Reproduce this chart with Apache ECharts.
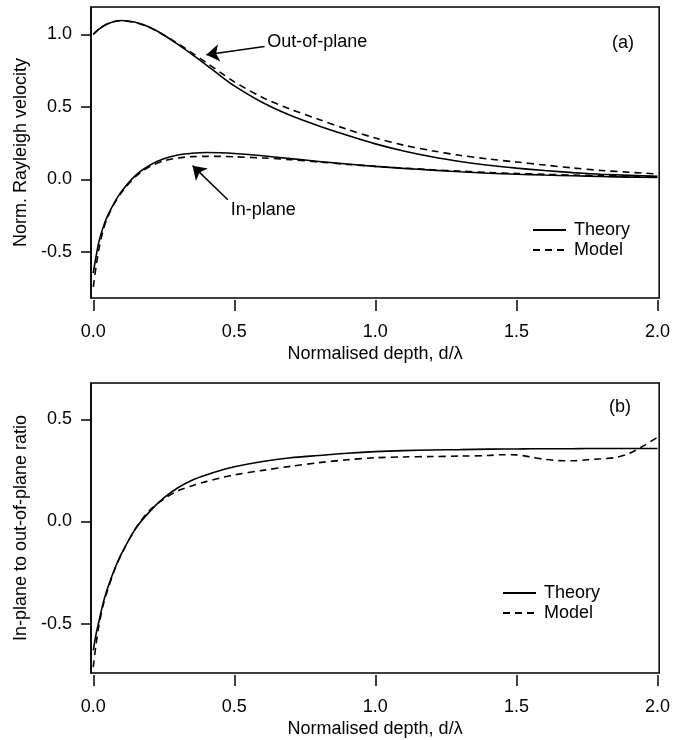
<!DOCTYPE html>
<html>
<head>
<meta charset="utf-8">
<script src="https://cdn.jsdelivr.net/npm/echarts@6/dist/echarts.min.js"></script>
<style>html,body{margin:0;padding:0;background:#fff;}#c{width:673px;height:740px;}</style>
</head>
<body>
<div id="c"></div>
<script>
// ---- data ----
const depthA = [0, 0.01, 0.02, 0.035, 0.05, 0.075, 0.1, 0.15, 0.2, 0.25, 0.3, 0.35, 0.4, 0.45, 0.5, 0.6, 0.7, 0.8, 0.9, 1.0, 1.1, 1.2, 1.3, 1.4, 1.5, 1.6, 1.7, 1.8, 1.9, 2.0];
const outTheory = [1.0, 1.018, 1.035, 1.055, 1.071, 1.088, 1.095, 1.083, 1.048, 0.995, 0.93, 0.862, 0.79, 0.715, 0.645, 0.53, 0.44, 0.368, 0.304, 0.245, 0.196, 0.156, 0.124, 0.098, 0.078, 0.061, 0.047, 0.036, 0.028, 0.021];
const outModel = [1.0, 1.018, 1.036, 1.056, 1.072, 1.088, 1.093, 1.08, 1.046, 0.995, 0.935, 0.872, 0.806, 0.738, 0.672, 0.565, 0.483, 0.413, 0.345, 0.285, 0.236, 0.198, 0.166, 0.141, 0.12, 0.099, 0.079, 0.062, 0.049, 0.038];
const inTheory = [-0.645, -0.53, -0.43, -0.33, -0.255, -0.16, -0.083, 0.028, 0.098, 0.142, 0.168, 0.18, 0.185, 0.184, 0.179, 0.163, 0.143, 0.124, 0.106, 0.09, 0.076, 0.064, 0.053, 0.043, 0.036, 0.03, 0.025, 0.02, 0.016, 0.013];
const inModel = [-0.74, -0.6, -0.48, -0.35, -0.265, -0.165, -0.09, 0.02, 0.088, 0.128, 0.148, 0.157, 0.159, 0.159, 0.156, 0.148, 0.136, 0.12, 0.104, 0.09, 0.078, 0.067, 0.057, 0.048, 0.041, 0.035, 0.03, 0.026, 0.023, 0.02];

const depthB = [0, 0.01, 0.02, 0.035, 0.05, 0.075, 0.1, 0.15, 0.2, 0.25, 0.3, 0.35, 0.4, 0.45, 0.5, 0.6, 0.7, 0.8, 0.9, 1.0, 1.1, 1.2, 1.3, 1.4, 1.45, 1.5, 1.55, 1.6, 1.65, 1.7, 1.75, 1.8, 1.85, 1.9, 1.95, 2.0];
const ratioTheory = [-0.631, -0.55, -0.49, -0.4, -0.33, -0.235, -0.158, -0.035, 0.048, 0.115, 0.165, 0.202, 0.228, 0.25, 0.268, 0.294, 0.312, 0.323, 0.334, 0.342, 0.347, 0.35, 0.352, 0.354, 0.355, 0.355, 0.356, 0.356, 0.356, 0.356, 0.357, 0.357, 0.357, 0.357, 0.357, 0.357];
const ratioModel = [-0.713, -0.6, -0.51, -0.41, -0.34, -0.24, -0.16, -0.035, 0.055, 0.11, 0.15, 0.175, 0.195, 0.213, 0.228, 0.25, 0.27, 0.288, 0.302, 0.312, 0.316, 0.318, 0.32, 0.323, 0.327, 0.326, 0.316, 0.304, 0.298, 0.297, 0.302, 0.307, 0.313, 0.333, 0.37, 0.412];

const xTicks = [0, 0.5, 1.0, 1.5, 2.0];
const yTicksA = [-0.5, 0, 0.5, 1.0];
const yTicksB = [-0.5, 0, 0.5];
const legendNames = ['Theory', 'Model'];

// annotations (data coordinates of panel a)
const annotText = ['Out-of-plane', 'In-plane'];
const annotTextAt = [[0.617, 0.948], [0.487, -0.209]];
const arrowFrom = [[0.607, 0.916], [0.477, -0.140]];
const arrowTo = [[0.401, 0.859], [0.352, 0.095]];
const panelLabels = ['(a)', '(b)'];

// ---- chart ----
const FONT = '"Liberation Sans", Arial, Helvetica, sans-serif';
const FS = 18;
const zip = (xs, ys) => xs.map((x, i) => [x, ys[i]]);
const chart = echarts.init(document.getElementById('c'), null, {renderer: 'canvas'});

function xAxisCfg(gi) {
  return {
    gridIndex: gi, type: 'value', min: -0.008, max: 2.006, offset: 2,
    axisLine: {show: false, onZero: false},
    axisTick: {show: true, length: 11, customValues: xTicks, lineStyle: {color: '#000', width: 1.5}},
    axisLabel: {customValues: xTicks, formatter: v => v.toFixed(1), margin: 23, fontSize: FS, color: '#000', fontFamily: FONT},
    splitLine: {show: false},
    name: 'Normalised depth, d/\u03BB', nameLocation: 'middle', nameGap: 45,
    nameTextStyle: {fontSize: FS, color: '#000', fontFamily: FONT}
  };
}
function yAxisCfg(gi, min, max, ticks, name) {
  return {
    gridIndex: gi, type: 'value', min: min, max: max,
    axisLine: {show: true, onZero: false, lineStyle: {color: '#000', width: 1.5}},
    axisTick: {show: true, length: 10, customValues: ticks, lineStyle: {color: '#000', width: 1.5}},
    axisLabel: {customValues: ticks, formatter: v => v.toFixed(1), margin: 19, fontSize: FS, color: '#000', fontFamily: FONT},
    splitLine: {show: false},
    name: name, nameLocation: 'middle', nameGap: 59,
    nameTextStyle: {fontSize: FS, color: '#000', fontFamily: FONT}
  };
}
function lineSeries(name, xi, yi, data, dashed, extra) {
  return Object.assign({
    name: name, type: 'line', xAxisIndex: xi, yAxisIndex: yi,
    data: data, symbol: 'none', showSymbol: false, smooth: 0.3,
    lineStyle: {color: '#000', width: 1.6, type: dashed ? [7, 5] : 'solid'},
    itemStyle: {color: '#000'}
  }, extra || {});
}
function arrowMark(i) {
  return [{coord: arrowFrom[i]}, {coord: arrowTo[i]}];
}
const legendCfg = (left, top) => ({
  data: legendNames, orient: 'vertical', left: left, top: top, padding: 0,
  itemWidth: 33, itemHeight: 14, itemGap: 2, selectedMode: false,
  itemStyle: {opacity: 0, borderWidth: 0},
  textStyle: {fontSize: FS, color: '#000', fontFamily: FONT, padding: [0, 0, 0, 3]}
});

const option = {
  animation: false,
  backgroundColor: '#fff',
  grid: [
    {left: 91, right: 11, top: 7, height: 291, show: true, borderColor: '#000', borderWidth: 1.5, backgroundColor: 'transparent'},
    {left: 91, right: 11, top: 383, height: 290, show: true, borderColor: '#000', borderWidth: 1.5, backgroundColor: 'transparent'}
  ],
  xAxis: [xAxisCfg(0), xAxisCfg(1)],
  yAxis: [
    yAxisCfg(0, -0.817, 1.188, yTicksA, 'Norm. Rayleigh velocity'),
    yAxisCfg(1, -0.742, 0.678, yTicksB, 'In-plane to out-of-plane ratio')
  ],
  legend: [legendCfg(532, 221), legendCfg(502, 584)],
  series: [
    lineSeries('Theory', 0, 0, zip(depthA, outTheory), false, {
      markLine: {silent: true, symbol: ['none', 'arrow'], symbolSize: 13,
        lineStyle: {color: '#000', width: 1.5, type: 'solid'}, label: {show: false},
        itemStyle: {color: '#000'},
        emphasis: {disabled: true}, data: [arrowMark(0), arrowMark(1)]}
    }),
    lineSeries('Model', 0, 0, zip(depthA, outModel), true),
    lineSeries('Theory', 0, 0, zip(depthA, inTheory), false),
    lineSeries('Model', 0, 0, zip(depthA, inModel), true),
    lineSeries('Theory', 1, 1, zip(depthB, ratioTheory), false),
    lineSeries('Model', 1, 1, zip(depthB, ratioModel), true)
  ]
};
chart.setOption(option);

const graphics = annotText.map((t, i) => {
  const p = chart.convertToPixel({gridIndex: 0}, annotTextAt[i]);
  return {type: 'text', x: p[0], y: p[1], style: {text: t, fill: '#000', font: FS + 'px ' + FONT, align: 'left', verticalAlign: 'middle'}};
});
graphics.push({type: 'text', x: 623, y: 43, style: {text: panelLabels[0], fill: '#000', font: FS + 'px ' + FONT, align: 'center', verticalAlign: 'middle'}});
graphics.push({type: 'text', x: 620, y: 407, style: {text: panelLabels[1], fill: '#000', font: FS + 'px ' + FONT, align: 'center', verticalAlign: 'middle'}});
chart.setOption({graphic: graphics});
</script>
</body>
</html>
